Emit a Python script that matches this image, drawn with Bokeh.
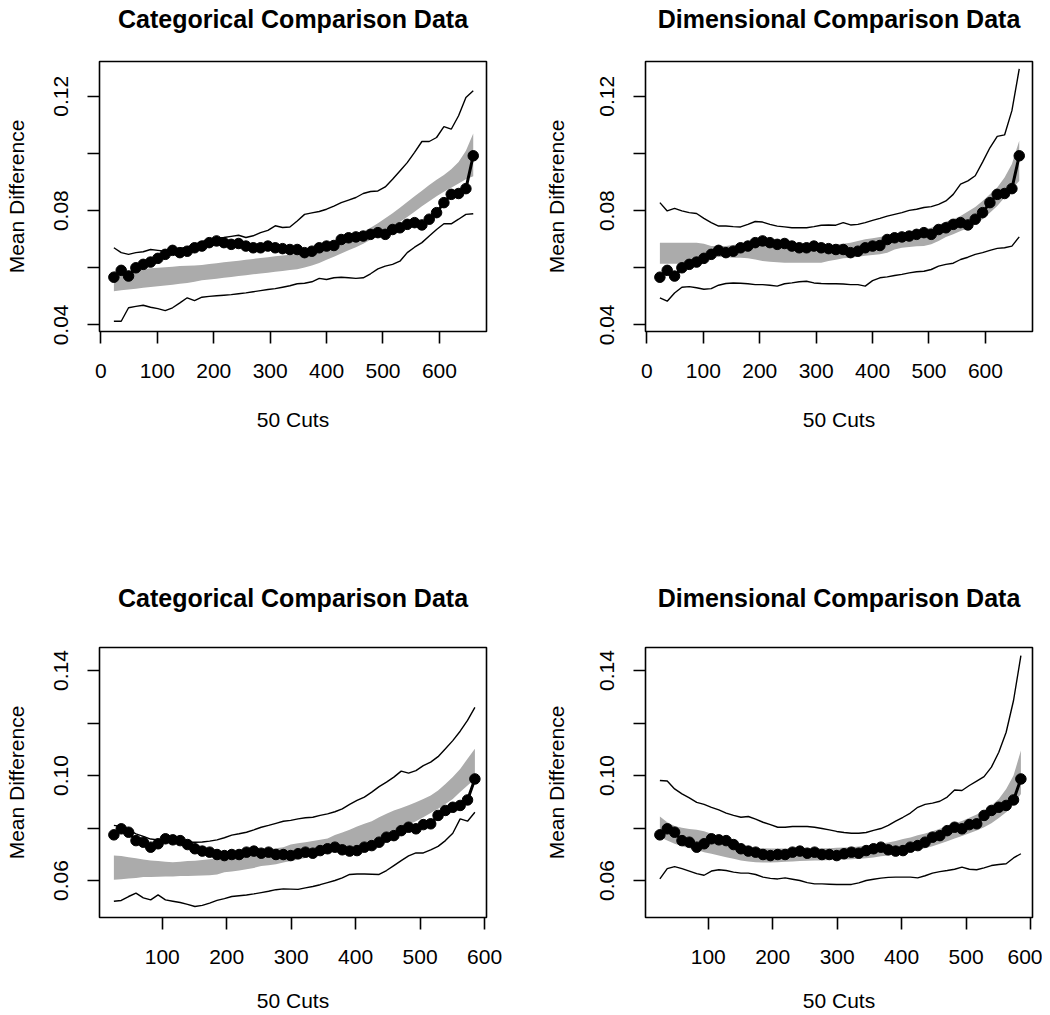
import numpy as np
from bokeh.plotting import figure
from bokeh.layouts import column, row
from bokeh.models import Range1d, FixedTicker, Title
from bokeh.embed import file_html
from bokeh.resources import INLINE

# ---------------- data ----------------
x_top = np.linspace(23, 660, 50)
x_bot = np.linspace(25, 585, 50)

top_xticks = [0, 100, 200, 300, 400, 500, 600]
bot_xticks = [100, 200, 300, 400, 500, 600]
top_yticks = [0.04, 0.06, 0.08, 0.10, 0.12]
top_ylabels = ["0.04", "", "0.08", "", "0.12"]
bot_yticks = [0.06, 0.08, 0.10, 0.12, 0.14]
bot_ylabels = ["0.06", "", "0.10", "", "0.14"]

titles = ["Categorical Comparison Data", "Dimensional Comparison Data",
          "Categorical Comparison Data", "Dimensional Comparison Data"]

dots_top = [0.0567, 0.0591, 0.0571, 0.0600, 0.0612, 0.0620, 0.0633, 0.0647, 0.0661, 0.0653,
            0.0658, 0.0670, 0.0676, 0.0688, 0.0694, 0.0688, 0.0682, 0.0685, 0.0676, 0.0670,
            0.0670, 0.0676, 0.0670, 0.0667, 0.0664, 0.0664, 0.0653, 0.0658, 0.0670, 0.0676,
            0.0678, 0.0699, 0.0705, 0.0708, 0.0711, 0.0717, 0.0723, 0.0717, 0.0734, 0.0740,
            0.0752, 0.0758, 0.0750, 0.0770, 0.0793, 0.0828, 0.0857, 0.0860, 0.0877, 0.0992]

tl_band_hi = [0.0588, 0.0590, 0.0592, 0.0594, 0.0596, 0.0598, 0.0600, 0.0602, 0.0604, 0.0606,
              0.0607, 0.0608, 0.0610, 0.0613, 0.0616, 0.0619, 0.0622, 0.0625, 0.0628, 0.0631,
              0.0634, 0.0637, 0.0640, 0.0643, 0.0646, 0.0649, 0.0654, 0.0660, 0.0668, 0.0677,
              0.0686, 0.0695, 0.0704, 0.0714, 0.0726, 0.0740, 0.0756, 0.0773, 0.0791, 0.0810,
              0.0830, 0.0850, 0.0870, 0.0890, 0.0908, 0.0925, 0.0945, 0.0970, 0.1010, 0.1070]
tl_band_lo = [0.0518, 0.0521, 0.0524, 0.0527, 0.0530, 0.0533, 0.0535, 0.0538, 0.0541, 0.0544,
              0.0547, 0.0551, 0.0556, 0.0559, 0.0562, 0.0565, 0.0568, 0.0571, 0.0574, 0.0577,
              0.0580, 0.0583, 0.0586, 0.0589, 0.0592, 0.0595, 0.0601, 0.0608, 0.0617, 0.0628,
              0.0639, 0.0650, 0.0661, 0.0672, 0.0684, 0.0698, 0.0712, 0.0727, 0.0743, 0.0760,
              0.0778, 0.0796, 0.0815, 0.0833, 0.0850, 0.0866, 0.0880, 0.0895, 0.0910, 0.0920]
tl_hi = [0.0670, 0.0653, 0.0647, 0.0653, 0.0656, 0.0664, 0.0661, 0.0658, 0.0661, 0.0668,
         0.0672, 0.0682, 0.0691, 0.0698, 0.0703, 0.0706, 0.0710, 0.0714, 0.0706, 0.0712,
         0.0723, 0.0731, 0.0747, 0.0741, 0.0743, 0.0764, 0.0787, 0.0792, 0.0797, 0.0805,
         0.0816, 0.0828, 0.0837, 0.0846, 0.0860, 0.0867, 0.0869, 0.0883, 0.0910, 0.0939,
         0.0968, 0.1004, 0.1042, 0.1042, 0.1056, 0.1094, 0.1085, 0.1132, 0.1196, 0.1220]
tl_lo = [0.0413, 0.0413, 0.0460, 0.0465, 0.0469, 0.0462, 0.0457, 0.0450, 0.0460, 0.0477,
         0.0495, 0.0485, 0.0497, 0.0500, 0.0502, 0.0504, 0.0506, 0.0509, 0.0512, 0.0516,
         0.0520, 0.0524, 0.0527, 0.0532, 0.0537, 0.0544, 0.0546, 0.0551, 0.0563, 0.0559,
         0.0565, 0.0567, 0.0565, 0.0563, 0.0565, 0.0579, 0.0596, 0.0606, 0.0612, 0.0623,
         0.0653, 0.0672, 0.0688, 0.0711, 0.0734, 0.0754, 0.0754, 0.0770, 0.0787, 0.0789]

tr_band_hi = [0.0688, 0.0688, 0.0688, 0.0688, 0.0688, 0.0688, 0.0684, 0.0676, 0.0676, 0.0676,
              0.0680, 0.0684, 0.0688, 0.0691, 0.0694, 0.0688, 0.0684, 0.0682, 0.0680, 0.0678,
              0.0676, 0.0676, 0.0676, 0.0678, 0.0682, 0.0684, 0.0688, 0.0694, 0.0700, 0.0703,
              0.0708, 0.0712, 0.0717, 0.0722, 0.0726, 0.0731, 0.0735, 0.0740, 0.0750, 0.0762,
              0.0770, 0.0781, 0.0797, 0.0813, 0.0834, 0.0857, 0.0881, 0.0916, 0.0963, 0.1045]
tr_band_lo = [0.0614, 0.0614, 0.0614, 0.0614, 0.0614, 0.0614, 0.0618, 0.0635, 0.0638, 0.0638,
              0.0635, 0.0635, 0.0633, 0.0629, 0.0624, 0.0621, 0.0619, 0.0618, 0.0618, 0.0618,
              0.0618, 0.0618, 0.0618, 0.0624, 0.0628, 0.0633, 0.0635, 0.0639, 0.0642, 0.0645,
              0.0647, 0.0653, 0.0664, 0.0670, 0.0673, 0.0675, 0.0676, 0.0682, 0.0694, 0.0708,
              0.0717, 0.0729, 0.0738, 0.0752, 0.0770, 0.0793, 0.0816, 0.0846, 0.0875, 0.0904]
tr_hi = [0.0828, 0.0799, 0.0808, 0.0799, 0.0793, 0.0790, 0.0773, 0.0758, 0.0746, 0.0746,
         0.0744, 0.0743, 0.0752, 0.0762, 0.0760, 0.0752, 0.0746, 0.0743, 0.0740, 0.0740,
         0.0740, 0.0744, 0.0749, 0.0750, 0.0749, 0.0758, 0.0750, 0.0752, 0.0758, 0.0766,
         0.0773, 0.0781, 0.0787, 0.0793, 0.0801, 0.0805, 0.0811, 0.0814, 0.0822, 0.0834,
         0.0857, 0.0893, 0.0904, 0.0922, 0.0970, 0.1020, 0.1060, 0.1065, 0.1150, 0.1296]
tr_lo = [0.0495, 0.0483, 0.0512, 0.0532, 0.0534, 0.0530, 0.0525, 0.0527, 0.0539, 0.0545,
         0.0547, 0.0546, 0.0544, 0.0541, 0.0541, 0.0539, 0.0536, 0.0544, 0.0547, 0.0551,
         0.0553, 0.0547, 0.0545, 0.0544, 0.0544, 0.0543, 0.0541, 0.0541, 0.0536, 0.0555,
         0.0565, 0.0568, 0.0573, 0.0577, 0.0582, 0.0586, 0.0588, 0.0594, 0.0606, 0.0612,
         0.0616, 0.0629, 0.0637, 0.0647, 0.0653, 0.0661, 0.0668, 0.0670, 0.0676, 0.0708]

dots_bot = [0.0774, 0.0797, 0.0784, 0.0752, 0.0746, 0.0727, 0.0740, 0.0759, 0.0755, 0.0752,
            0.0737, 0.0721, 0.0712, 0.0708, 0.0699, 0.0695, 0.0699, 0.0699, 0.0708, 0.0712,
            0.0704, 0.0708, 0.0699, 0.0699, 0.0695, 0.0702, 0.0708, 0.0704, 0.0714, 0.0721,
            0.0727, 0.0717, 0.0712, 0.0714, 0.0727, 0.0733, 0.0746, 0.0765, 0.0771, 0.0790,
            0.0803, 0.0797, 0.0813, 0.0816, 0.0848, 0.0867, 0.0879, 0.0886, 0.0907, 0.0987]

bl_band_hi = [0.0695, 0.0693, 0.0689, 0.0685, 0.0680, 0.0676, 0.0674, 0.0671, 0.0670, 0.0671,
              0.0674, 0.0675, 0.0678, 0.0681, 0.0686, 0.0690, 0.0695, 0.0702, 0.0707, 0.0712,
              0.0716, 0.0719, 0.0723, 0.0727, 0.0737, 0.0742, 0.0746, 0.0751, 0.0755, 0.0760,
              0.0773, 0.0783, 0.0793, 0.0806, 0.0816, 0.0826, 0.0841, 0.0854, 0.0867, 0.0876,
              0.0887, 0.0898, 0.0911, 0.0924, 0.0943, 0.0968, 0.0994, 0.1025, 0.1064, 0.1102]
bl_band_lo = [0.0603, 0.0605, 0.0608, 0.0610, 0.0613, 0.0613, 0.0614, 0.0615, 0.0615, 0.0617,
              0.0617, 0.0618, 0.0619, 0.0620, 0.0623, 0.0631, 0.0634, 0.0638, 0.0643, 0.0648,
              0.0655, 0.0658, 0.0662, 0.0669, 0.0674, 0.0679, 0.0686, 0.0693, 0.0698, 0.0704,
              0.0711, 0.0718, 0.0724, 0.0732, 0.0742, 0.0752, 0.0763, 0.0774, 0.0787, 0.0801,
              0.0813, 0.0826, 0.0841, 0.0857, 0.0873, 0.0892, 0.0911, 0.0937, 0.0962, 0.0987]
bl_hi = [0.0810, 0.0806, 0.0793, 0.0778, 0.0768, 0.0758, 0.0755, 0.0752, 0.0750, 0.0749,
         0.0746, 0.0746, 0.0747, 0.0750, 0.0755, 0.0763, 0.0773, 0.0778, 0.0784, 0.0793,
         0.0803, 0.0810, 0.0818, 0.0826, 0.0829, 0.0835, 0.0839, 0.0841, 0.0848, 0.0854,
         0.0862, 0.0873, 0.0890, 0.0905, 0.0918, 0.0937, 0.0958, 0.0975, 0.0994, 0.1017,
         0.1009, 0.1019, 0.1038, 0.1051, 0.1072, 0.1102, 0.1133, 0.1169, 0.1210, 0.1260]
bl_lo = [0.0521, 0.0524, 0.0539, 0.0552, 0.0534, 0.0526, 0.0545, 0.0526, 0.0521, 0.0516,
         0.0509, 0.0501, 0.0505, 0.0514, 0.0524, 0.0531, 0.0539, 0.0542, 0.0545, 0.0549,
         0.0554, 0.0559, 0.0565, 0.0568, 0.0567, 0.0566, 0.0572, 0.0577, 0.0584, 0.0592,
         0.0600, 0.0610, 0.0623, 0.0625, 0.0625, 0.0624, 0.0623, 0.0638, 0.0657, 0.0676,
         0.0694, 0.0705, 0.0705, 0.0717, 0.0730, 0.0752, 0.0780, 0.0835, 0.0826, 0.0860]

br_band_hi = [0.0844, 0.0822, 0.0808, 0.0801, 0.0796, 0.0793, 0.0788, 0.0778, 0.0765, 0.0752,
              0.0742, 0.0733, 0.0727, 0.0725, 0.0723, 0.0722, 0.0722, 0.0722, 0.0722, 0.0722,
              0.0722, 0.0723, 0.0723, 0.0723, 0.0725, 0.0726, 0.0727, 0.0730, 0.0732, 0.0736,
              0.0740, 0.0745, 0.0751, 0.0758, 0.0764, 0.0772, 0.0779, 0.0788, 0.0797, 0.0807,
              0.0817, 0.0827, 0.0839, 0.0852, 0.0867, 0.0886, 0.0911, 0.0949, 0.1000, 0.1095]
br_band_lo = [0.0765, 0.0752, 0.0740, 0.0731, 0.0723, 0.0717, 0.0708, 0.0702, 0.0695, 0.0689,
              0.0683, 0.0676, 0.0672, 0.0670, 0.0669, 0.0669, 0.0670, 0.0671, 0.0672, 0.0674,
              0.0675, 0.0676, 0.0676, 0.0678, 0.0679, 0.0680, 0.0681, 0.0683, 0.0685, 0.0688,
              0.0692, 0.0695, 0.0700, 0.0705, 0.0711, 0.0717, 0.0723, 0.0731, 0.0740, 0.0750,
              0.0760, 0.0770, 0.0780, 0.0791, 0.0803, 0.0818, 0.0838, 0.0860, 0.0890, 0.0930]
br_hi = [0.0981, 0.0979, 0.0949, 0.0930, 0.0915, 0.0898, 0.0890, 0.0879, 0.0869, 0.0857,
         0.0848, 0.0841, 0.0844, 0.0834, 0.0822, 0.0813, 0.0803, 0.0803, 0.0806, 0.0806,
         0.0806, 0.0803, 0.0798, 0.0793, 0.0787, 0.0783, 0.0780, 0.0780, 0.0783, 0.0791,
         0.0798, 0.0810, 0.0826, 0.0841, 0.0857, 0.0879, 0.0890, 0.0895, 0.0902, 0.0918,
         0.0945, 0.0943, 0.0962, 0.0979, 0.0996, 0.1032, 0.1089, 0.1165, 0.1286, 0.1457]
br_lo = [0.0606, 0.0645, 0.0653, 0.0645, 0.0636, 0.0626, 0.0620, 0.0636, 0.0641, 0.0638,
         0.0632, 0.0628, 0.0628, 0.0623, 0.0613, 0.0608, 0.0606, 0.0610, 0.0605, 0.0600,
         0.0592, 0.0587, 0.0587, 0.0586, 0.0585, 0.0585, 0.0585, 0.0591, 0.0600, 0.0605,
         0.0609, 0.0612, 0.0613, 0.0613, 0.0613, 0.0610, 0.0618, 0.0628, 0.0634, 0.0638,
         0.0643, 0.0651, 0.0643, 0.0641, 0.0648, 0.0657, 0.0661, 0.0664, 0.0686, 0.0702]

# ---------------- styling ----------------
FONT = "Liberation Sans"
BAND = "#ababab"
FRAME_W, FRAME_H = 387, 270


def panel(title, x, dots, band_lo, band_hi, hi, lo, xr, yr, xticks, yticks, ylabels,
          borders, title_gap, ylab_standoff, xlab_standoff):
    ml, mr, mt, mb = borders
    p = figure(frame_width=FRAME_W, frame_height=FRAME_H, title=None,
               x_range=Range1d(*xr), y_range=Range1d(*yr),
               output_backend="svg", toolbar_location=None,
               min_border_left=ml, min_border_right=mr,
               min_border_top=mt, min_border_bottom=mb)
    p.grid.visible = False
    p.outline_line_color = "black"
    p.outline_line_width = 1.6
    p.outline_line_alpha = 1.0
    p.background_fill_color = "white"
    p.border_fill_color = "white"

    p.varea(x=x, y1=band_lo, y2=band_hi, fill_color=BAND)
    p.line(x, hi, line_color="black", line_width=1.4)
    p.line(x, lo, line_color="black", line_width=1.4)
    p.line(x, dots, line_color="black", line_width=3)
    p.scatter(x, dots, size=10.5, color="black")

    # invisible spacer next to the box, then the bold title above it
    p.add_layout(Title(text=" ", text_font_size="1px", standoff=title_gap), "above")
    p.add_layout(Title(text=title, align="center", vertical_align="bottom",
                       text_font=FONT, text_font_size="25px", text_font_style="bold",
                       text_color="black", standoff=0), "above")

    for ax in (p.xaxis[0], p.yaxis[0]):
        ax.axis_line_color = None
        ax.major_tick_out = 12
        ax.major_tick_in = 0
        ax.minor_tick_out = 0
        ax.minor_tick_in = 0
        ax.major_tick_line_width = 1.6
        ax.major_tick_line_color = "black"
        ax.major_label_text_font = FONT
        ax.major_label_text_font_size = "21px"
        ax.major_label_text_color = "black"
        ax.axis_label_text_font = FONT
        ax.axis_label_text_font_size = "21px"
        ax.axis_label_text_font_style = "normal"
        ax.axis_label_text_color = "black"

    p.xaxis.ticker = FixedTicker(ticks=xticks)
    p.xaxis.axis_label = "50 Cuts"
    p.xaxis.major_label_standoff = 20
    p.xaxis.axis_label_standoff = xlab_standoff

    p.yaxis.ticker = FixedTicker(ticks=yticks)
    p.yaxis.major_label_overrides = {t: l for t, l in zip(yticks, ylabels)}
    p.yaxis.major_label_orientation = "vertical"
    p.yaxis.major_label_standoff = 19
    p.yaxis.axis_label = "Mean Difference"
    p.yaxis.axis_label_standoff = ylab_standoff
    return p


top_xr = (-2.5, 683.5)
top_yr = (0.0377, 0.1322)
bot_xr = (2.7, 603.0)
bot_yr = (0.0459, 0.1488)

p1 = panel(titles[0], x_top, dots_top, tl_band_lo, tl_band_hi, tl_hi, tl_lo,
           top_xr, top_yr, top_xticks, top_yticks, top_ylabels,
           (99, 39, 61, 239), 26, 24, 27)
p2 = panel(titles[1], x_top, dots_top, tr_band_lo, tr_band_hi, tr_hi, tr_lo,
           top_xr, top_yr, top_xticks, top_yticks, top_ylabels,
           (120, 10, 61, 239), 26, 30, 27)
p3 = panel(titles[2], x_bot, dots_bot, bl_band_lo, bl_band_hi, bl_hi, bl_lo,
           bot_xr, bot_yr, bot_xticks, bot_yticks, bot_ylabels,
           (99, 39, 77, 97), 33, 24, 22)
p4 = panel(titles[3], x_bot, dots_bot, br_band_lo, br_band_hi, br_hi, br_lo,
           bot_xr, bot_yr, bot_xticks, bot_yticks, bot_ylabels,
           (120, 10, 77, 97), 33, 30, 22)

layout = column(row(p1, p2), row(p3, p4))

open("out.html", "w").write(file_html(layout, INLINE))
